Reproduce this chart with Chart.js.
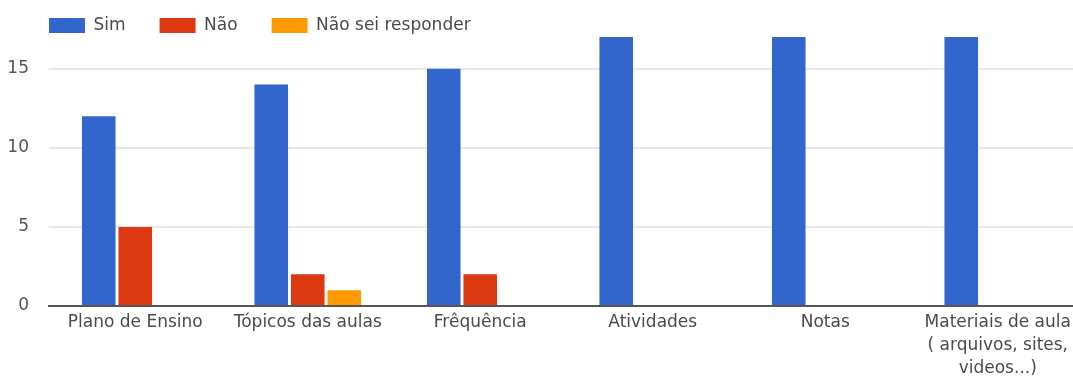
<!DOCTYPE html>
<html lang="pt">
<head>
<meta charset="utf-8">
<title>Recursos utilizados</title>
<script src="https://cdn.jsdelivr.net/npm/chart.js@4/dist/chart.umd.min.js"></script>
<style>
  html, body { margin: 0; padding: 0; background: #fff; overflow: hidden; }
  #wrap { position: relative; width: 1090px; height: 378px; }
</style>
</head>
<body>
<div id="wrap"><canvas id="chart"></canvas></div>
<script>
// categories and answer counts
const categories = [
  'Plano de Ensino',
  'Tópicos das aulas',
  'Frêquência',
  'Atividades',
  'Notas',
  ['Materiais de aula', '( arquivos, sites,', 'videos...)'],
];
const simValues = [12, 14, 15, 17, 17, 17];
const naoValues = [5, 2, 2, 0, 0, 0];
const naoSeiValues = [0, 1, 0, 0, 0, 0];
const yTicks = [0, 5, 10, 15];

const FONT = "'DejaVu Sans', Verdana, sans-serif";

function barSet(label, data, color) {
  return {
    label: label,
    data: data,
    backgroundColor: color,
    borderWidth: 0,
    categoryPercentage: 0.635,
    barPercentage: 0.92,
  };
}

// start the legend row in line with the plot instead of the canvas edge
const legendInset = {
  id: 'legendInset',
  afterLayout(chart) {
    if (chart.legend) chart.legend.left = 15;
  },
};

new Chart(document.getElementById('chart'), {
  type: 'bar',
  data: {
    labels: categories,
    datasets: [
      barSet('Sim', simValues, '#3366cc'),
      barSet('Não', naoValues, '#dc3912'),
      barSet('Não sei responder', naoSeiValues, '#ff9900'),
    ],
  },
  plugins: [legendInset],
  options: {
    responsive: true,
    maintainAspectRatio: false,
    animation: false,
    layout: { padding: { top: -17, left: 0, right: 6, bottom: 0 } },
    plugins: {
      tooltip: { enabled: false },
      legend: {
        position: 'top',
        align: 'start',
        maxHeight: 52,
        labels: {
          boxWidth: 36,
          boxHeight: 15,
          padding: 34,
          color: '#4a4a4a',
          font: { family: FONT, size: 17 },
        },
      },
    },
    scales: {
      x: {
        grid: { display: false, drawTicks: false },
        border: { display: true, color: '#555', width: 2 },
        ticks: {
          color: '#4a4a4a',
          padding: 5,
          maxRotation: 0,
          autoSkip: false,
          font: { family: FONT, size: 17, lineHeight: 1.35 },
        },
        afterFit: function(scale) { scale.height = 72; },
      },
      y: {
        min: 0,
        max: 17.13,
        border: { display: false },
        grid: {
          drawTicks: false,
          lineWidth: 2,
          color: function(ctx) {
            return ctx.tick && ctx.tick.value === 0 ? 'rgba(0,0,0,0)' : '#e8e8e8';
          },
        },
        ticks: {
          color: '#555',
          padding: 20,
          font: { family: FONT, size: 17 },
        },
        afterBuildTicks: function(scale) {
          scale.ticks = yTicks.map(function(v) { return { value: v }; });
        },
        afterFit: function(scale) { scale.width = 49; },
      },
    },
  },
});
</script>
</body>
</html>
